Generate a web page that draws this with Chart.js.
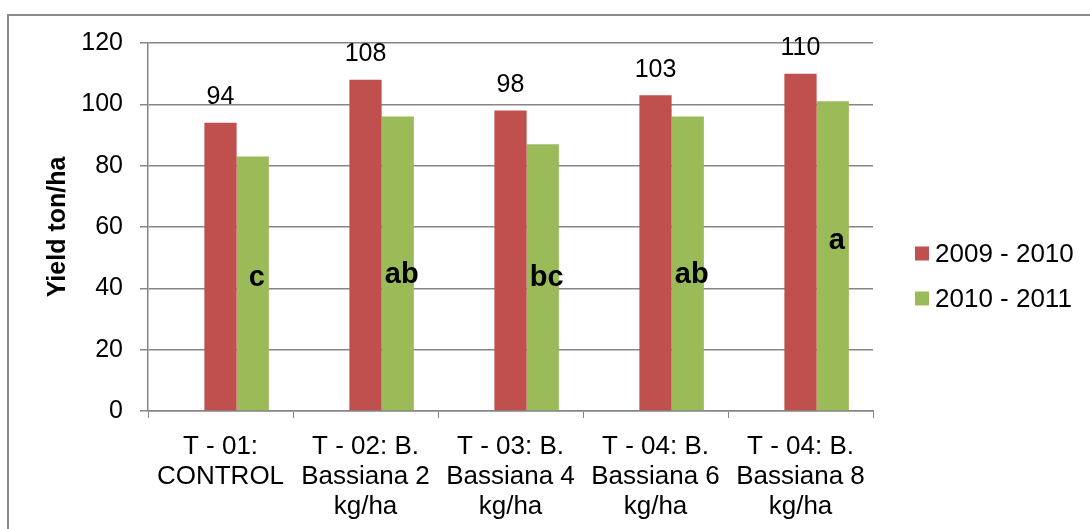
<!DOCTYPE html>
<html>
<head>
<meta charset="utf-8">
<script src="https://cdn.jsdelivr.net/npm/chart.js@4.4.1/dist/chart.umd.min.js"></script>
<style>
  html, body { margin: 0; padding: 0; background: #fff; overflow: hidden; }
  #wrap { position: relative; width: 1090px; height: 529px; }
  #frame { position: absolute; left: 7px; top: 14px; width: 1100px; height: 600px;
           border: 2px solid #8a8a8a; box-sizing: border-box; pointer-events: none; }
  canvas { position: absolute; left: 0; top: 0; }
</style>
</head>
<body>
<div id="wrap">
  <canvas id="yieldChart" width="1090" height="529"></canvas>
  <div id="frame"></div>
</div>
<script>
// Treatments and yields per season (ton/ha)
const categories = [
  ['T - 01:', 'CONTROL'],
  ['T - 02: B.', 'Bassiana 2', 'kg/ha'],
  ['T - 03: B.', 'Bassiana 4', 'kg/ha'],
  ['T - 04: B.', 'Bassiana 6', 'kg/ha'],
  ['T - 04: B.', 'Bassiana 8', 'kg/ha']
];
const seasonLabels = ['2009 - 2010', '2010 - 2011'];
const yield2009 = [94, 108, 98, 103, 110];
const yield2010 = [83, 96, 87, 96, 101];
const groupLetters = ['c', 'ab', 'bc', 'ab', 'a'];
const yTicks = [0, 20, 40, 60, 80, 100, 120];

const AXIS_GREY = '#868686';
const FONT = 'Liberation Sans, Arial, sans-serif';

// Value labels above the first season's bars, significance letters inside the
// second season's bars, and a side legend.
const annotations = {
  id: 'annotations',
  afterDatasetsDraw(chart, args, opts) {
    const ctx = chart.ctx;
    const yScale = chart.scales.y;
    ctx.save();
    ctx.fillStyle = '#000';
    ctx.textAlign = 'center';
    ctx.textBaseline = 'alphabetic';

    // values on top of the 2009 - 2010 bars
    ctx.font = '25px ' + FONT;
    chart.getDatasetMeta(1).data.forEach((bar, i) => {
      ctx.fillText(String(chart.data.datasets[1].data[i]), bar.x, bar.y - opts.valueGap);
    });

    // letters within the 2010 - 2011 bars
    ctx.font = 'bold 29px ' + FONT;
    chart.getDatasetMeta(2).data.forEach((bar, i) => {
      ctx.fillText(groupLetters[i], bar.x + opts.letterShift, yScale.getPixelForValue(opts.letterLevels[i]));
    });

    // legend
    const area = chart.chartArea;
    ctx.font = '26px ' + FONT;
    ctx.textAlign = 'left';
    ctx.textBaseline = 'middle';
    [1, 2].forEach((d, k) => {
      const ds = chart.data.datasets[d];
      const cy = opts.legendTop + k * opts.legendStep;
      const x = area.right + opts.legendOffset;
      ctx.fillStyle = ds.backgroundColor;
      ctx.fillRect(x, cy - opts.legendBox / 2, opts.legendBox, opts.legendBox);
      ctx.fillStyle = '#000';
      ctx.fillText(ds.label, x + opts.legendBox + opts.legendGap, cy + 1);
    });
    ctx.restore();
  }
};

new Chart(document.getElementById('yieldChart'), {
  type: 'bar',
  data: {
    labels: categories,
    datasets: [
      { label: '', data: categories.map(() => null), backgroundColor: 'rgba(0,0,0,0)' },
      { label: seasonLabels[0], data: yield2009, backgroundColor: '#C0504D' },
      { label: seasonLabels[1], data: yield2010, backgroundColor: '#9BBB59' }
    ]
  },
  options: {
    responsive: false,
    animation: false,
    devicePixelRatio: 1,
    layout: { padding: { top: 43, right: 217, bottom: 0, left: 0 } },
    datasets: { bar: { categoryPercentage: 0.667, barPercentage: 1 } },
    scales: {
      x: {
        offset: true,
        grid: { display: true, drawOnChartArea: false, drawTicks: true, tickLength: 7,
                color: AXIS_GREY, tickColor: AXIS_GREY, offset: true },
        border: { display: true, color: AXIS_GREY, width: 1.5 },
        ticks: { color: '#000', font: { family: FONT, size: 26, lineHeight: 1.15 },
                 padding: 14, maxRotation: 0, autoSkip: false },
        afterFit(scale) { scale.height = 118; }
      },
      y: {
        min: 0,
        max: 120,
        afterBuildTicks(scale) { scale.ticks = yTicks.map(v => ({ value: v })); },
        grid: { color: AXIS_GREY, lineWidth: 1.5, tickLength: 8, drawTicks: true, tickColor: AXIS_GREY },
        border: { display: true, color: AXIS_GREY, width: 1.5 },
        ticks: { color: '#000', font: { family: FONT, size: 25 }, padding: 17 },
        title: { display: true, text: 'Yield ton/ha', color: '#000',
                 font: { family: FONT, size: 25, weight: 'bold', lineHeight: 1.2 },
                 padding: { top: 43, bottom: 0 } },
        afterFit(scale) { scale.width = 148; }
      }
    },
    plugins: {
      legend: { display: false },
      tooltip: { enabled: false },
      annotations: {
        valueGap: 18.5,
        letterShift: 4,
        letterLevels: [40.7, 41.7, 40.7, 41.9, 52.7],
        legendOffset: 42,
        legendTop: 253.5,
        legendStep: 45,
        legendBox: 14,
        legendGap: 6
      }
    }
  },
  plugins: [annotations]
});
</script>
</body>
</html>
